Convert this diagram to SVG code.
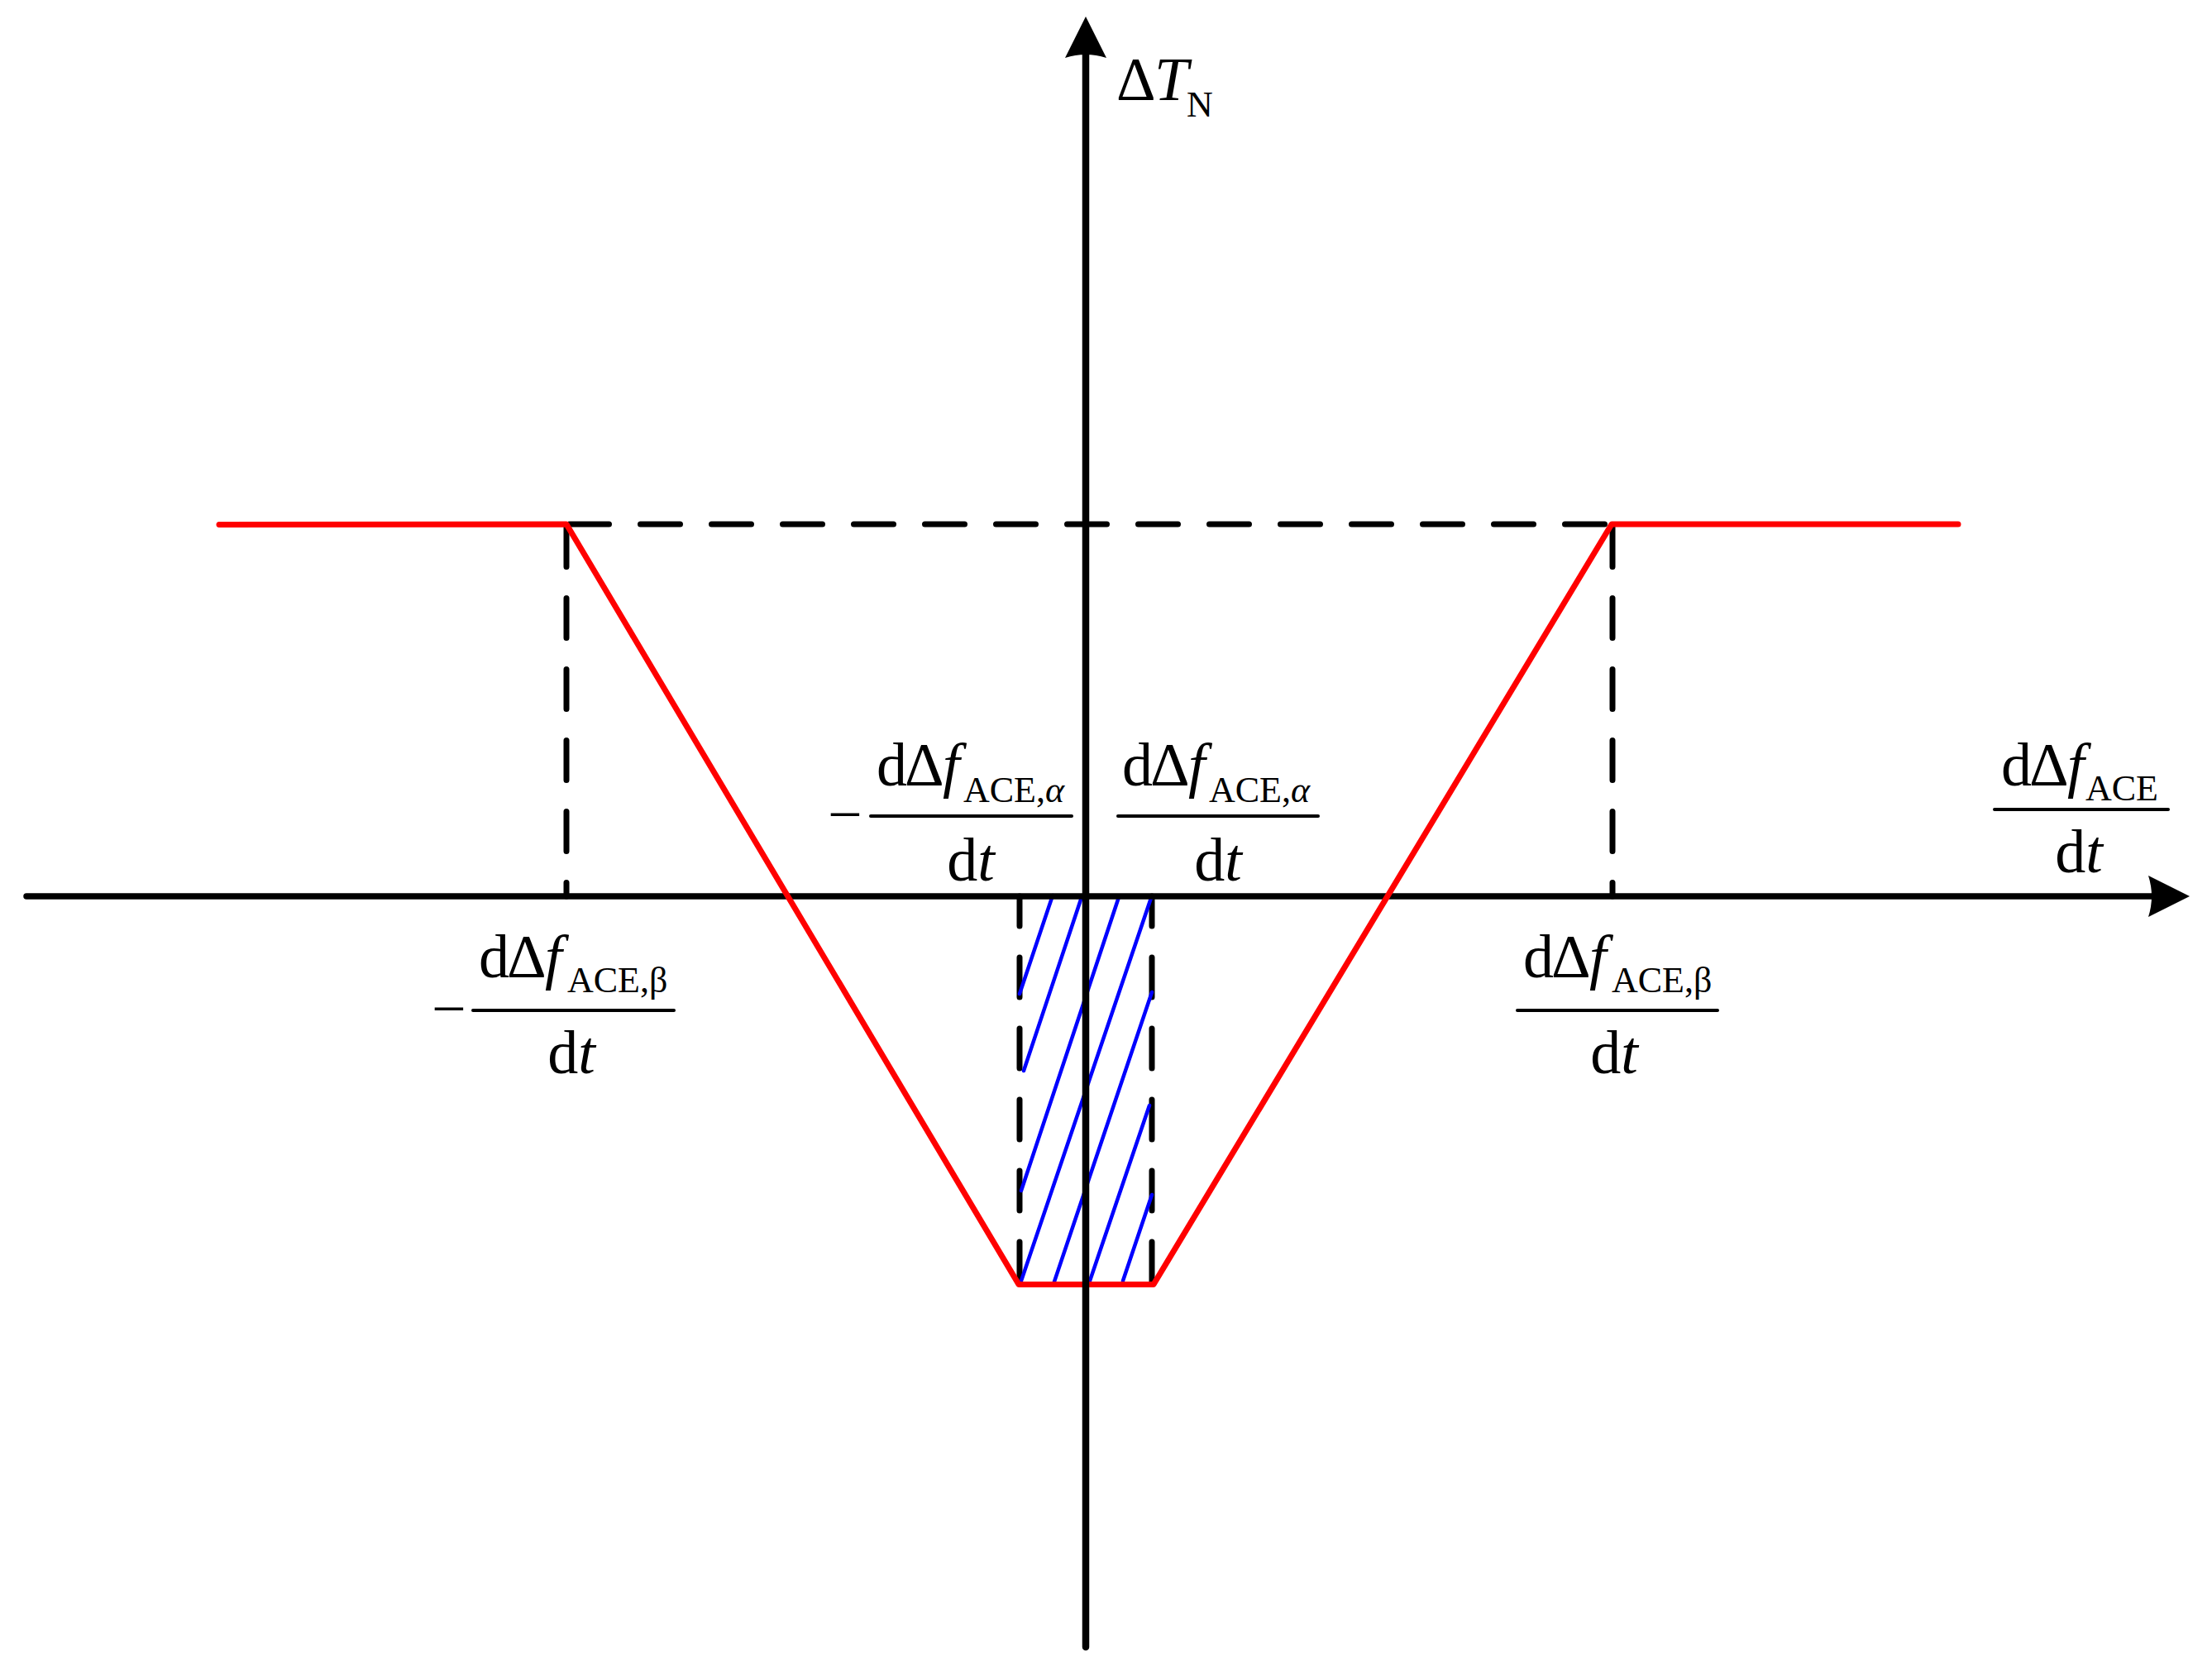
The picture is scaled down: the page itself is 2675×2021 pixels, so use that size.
<svg xmlns="http://www.w3.org/2000/svg" width="2675" height="2021" viewBox="0 0 2675 2021">
<style>
.axis{stroke:#000;fill:none;stroke-linecap:round}
.dash{stroke:#000;stroke-width:7;fill:none;stroke-linecap:round;stroke-dasharray:48 38}
.curve{stroke:#ff0000;stroke-width:7;fill:none;stroke-linejoin:round;stroke-linecap:round}
.hatch{stroke:#0000ff;stroke-width:4.5;stroke-linecap:round}
.bar{stroke:#000;stroke-width:4;stroke-linecap:round}
text{font-family:"Liberation Serif","Times New Roman",serif;font-size:74px;fill:#000}
.it{font-style:italic}
.sub{font-size:44px}
</style>
<defs>
<marker id="arrow" markerUnits="userSpaceOnUse" viewBox="0 -25 50 50" markerWidth="50" markerHeight="50" refX="10" refY="0" orient="auto">
<path d="M0,-25 L50,0 L0,25 Q8,0 0,-25 Z" fill="#000"/>
</marker>
</defs>
<rect width="2675" height="2021" fill="#fff"/>

<g id="connectors">
<g id="guides">
<line class="dash" x1="688.5" y1="634" x2="1950" y2="634"/>
<line class="dash" x1="685" y1="637.5" x2="685" y2="1084"/>
<line class="dash" x1="1950" y1="637.5" x2="1950" y2="1084"/>
<line class="dash" x1="1233" y1="1550" x2="1233" y2="1084"/>
<line class="dash" x1="1393" y1="1550" x2="1393" y2="1084"/>
</g>
<g id="hatching">
<line class="hatch" x1="1273" y1="1083" x2="1233" y2="1202"/>
<line class="hatch" x1="1308" y1="1085" x2="1238" y2="1295"/>
<line class="hatch" x1="1353" y1="1085" x2="1235" y2="1440"/>
<line class="hatch" x1="1392" y1="1086" x2="1234" y2="1552"/>
<line class="hatch" x1="1393" y1="1200" x2="1274" y2="1553"/>
<line class="hatch" x1="1390" y1="1337" x2="1317" y2="1552"/>
<line class="hatch" x1="1393" y1="1445" x2="1358" y2="1549"/>
</g>
<line id="x-axis" class="axis" stroke-width="7.5" x1="32" y1="1084" x2="2608" y2="1084" marker-end="url(#arrow)"/>
<polyline id="curve" class="curve" points="265,634.5 685,634 1232,1553.5 1395,1553.5 1949,634 2368,634"/>
<line id="y-axis" class="axis" stroke-width="8.5" x1="1313" y1="1992" x2="1313" y2="60" marker-end="url(#arrow)"/>
</g>

<g id="label-y">
<text y="121"><tspan x="1350">Δ</tspan><tspan x="1396" class="it">T</tspan><tspan x="1435" y="141" class="sub">N</tspan></text>
</g>

<g id="label-x">
<text y="950"><tspan x="2420">d</tspan><tspan x="2454">Δ</tspan><tspan x="2500" class="it">f</tspan><tspan x="2522" y="968" class="sub">ACE</tspan></text>
<line class="bar" x1="2412" y1="979" x2="2622" y2="979"/>
<text x="2514" y="1055" text-anchor="middle">d<tspan class="it">t</tspan></text>
</g>

<g id="label-neg-alpha">
<text x="1001" y="1010">−</text>
<text y="950"><tspan x="1060">d</tspan><tspan x="1094">Δ</tspan><tspan x="1140" class="it">f</tspan><tspan x="1165" y="970" class="sub">ACE,<tspan class="it">α</tspan></tspan></text>
<line class="bar" x1="1053" y1="987" x2="1296" y2="987"/>
<text x="1174" y="1065" text-anchor="middle">d<tspan class="it">t</tspan></text>
</g>

<g id="label-pos-alpha">
<text y="950"><tspan x="1357">d</tspan><tspan x="1391">Δ</tspan><tspan x="1437" class="it">f</tspan><tspan x="1462" y="970" class="sub">ACE,<tspan class="it">α</tspan></tspan></text>
<line class="bar" x1="1352" y1="987" x2="1594" y2="987"/>
<text x="1473" y="1065" text-anchor="middle">d<tspan class="it">t</tspan></text>
</g>

<g id="label-neg-beta">
<text x="522" y="1245">−</text>
<text y="1182"><tspan x="579">d</tspan><tspan x="613">Δ</tspan><tspan x="659" class="it">f</tspan><tspan x="686" y="1200" class="sub">ACE,β</tspan></text>
<line class="bar" x1="572" y1="1222" x2="815" y2="1222"/>
<text x="691" y="1298" text-anchor="middle">d<tspan class="it">t</tspan></text>
</g>

<g id="label-pos-beta">
<text y="1182"><tspan x="1842">d</tspan><tspan x="1876">Δ</tspan><tspan x="1922" class="it">f</tspan><tspan x="1949" y="1200" class="sub">ACE,β</tspan></text>
<line class="bar" x1="1835" y1="1222" x2="2077" y2="1222"/>
<text x="1952" y="1298" text-anchor="middle">d<tspan class="it">t</tspan></text>
</g>
</svg>
